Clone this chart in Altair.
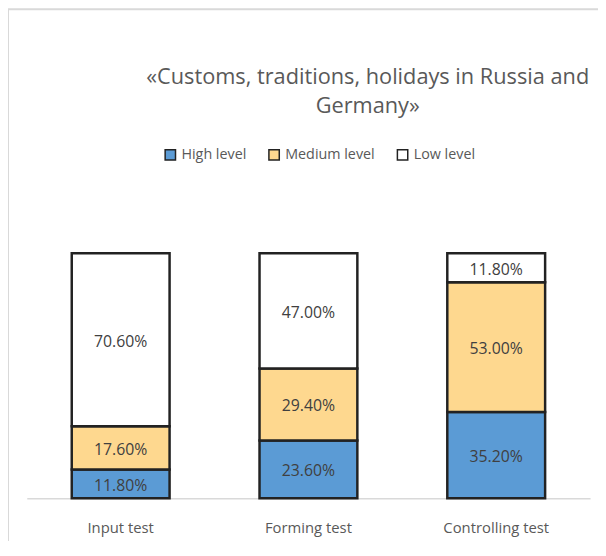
import altair as alt
import pandas as pd

tests = ["Input test", "Forming test", "Controlling test"]
levels = ["High level", "Medium level", "Low level"]
high = [0.118, 0.236, 0.352]
medium = [0.176, 0.294, 0.530]
low = [0.706, 0.470, 0.118]
colors = ["#5b9bd5", "#fed88f", "#ffffff"]
title_lines = ["«Customs, traditions, holidays in Russia and", "Germany»"]

rows = []
for i, t in enumerate(tests):
    for j, (lvl, vals) in enumerate(zip(levels, [high, medium, low])):
        rows.append({"test": t, "level": lvl, "order": j, "value": vals[i]})
df = pd.DataFrame(rows)

FONT = "Open Sans"

xenc = alt.X(
    "test:N",
    sort=tests,
    scale=alt.Scale(paddingInner=0.479, paddingOuter=0.2395),
    axis=alt.Axis(
        title=None, labelAngle=0, ticks=False, domainColor="#d9d9d9",
        domainWidth=1.5, labelFontSize=15, labelColor="#595959",
        labelFont=FONT, labelPadding=23,
    ),
)

bars = alt.Chart(df).mark_bar(stroke="#222222", strokeWidth=2.5).encode(
    x=xenc,
    y=alt.Y("value:Q", stack="zero", scale=alt.Scale(domain=[0, 1]), axis=None),
    order=alt.Order("order:Q", sort="ascending"),
    color=alt.Color(
        "level:N",
        scale=alt.Scale(domain=levels, range=colors),
        legend=alt.Legend(
            title=None, orient="none", legendX=138, legendY=-107,
            direction="horizontal",
            symbolType="square", symbolSize=110,
            symbolStrokeColor="#222222", symbolStrokeWidth=1.5,
            labelFontSize=14.5, labelFont=FONT, labelColor="#595959",
            columnPadding=19, labelOffset=4,
        ),
    ),
)

labels = alt.Chart(df).transform_stack(
    stack="value", groupby=["test"], sort=[alt.SortField("order")], as_=["v0", "v1"]
).transform_calculate(
    mid="(datum.v0 + datum.v1) / 2"
).mark_text(font=FONT, fontSize=16, color="#404040", dy=2).encode(
    x=alt.X("test:N", sort=tests),
    y=alt.Y("mid:Q"),
    text=alt.Text("value:Q", format=".2%"),
)

frame_df = pd.DataFrame({"a": [0]})
frame = alt.Chart(frame_df).mark_rect(
    fillOpacity=0, stroke="#d9d9d9", strokeWidth=2
).encode(
    x=alt.value(-19), x2=alt.value(700), y=alt.value(-247), y2=alt.value(400)
)

chart = alt.layer(frame, bars, labels).properties(
    width=570,
    height=248,
    title=alt.TitleParams(
        text=title_lines, fontSize=22, font=FONT, color="#595959",
        fontWeight="normal", anchor="middle", dx=60, offset=-111,
        lineHeight=29, frame="group",
    ),
    autosize=alt.AutoSizeParams(type="none"),
    padding={"left": 19, "top": 245, "right": 8, "bottom": 40},
).configure(background="white").configure_view(stroke=None)

chart.save("out.html", embed_options={"renderer": "svg", "actions": False})
